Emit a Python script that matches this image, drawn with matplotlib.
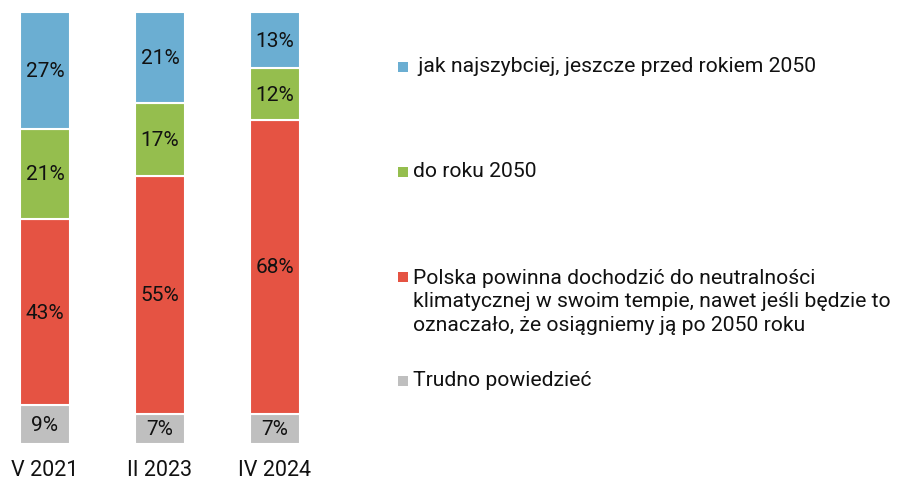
import matplotlib
matplotlib.use("Agg")
import matplotlib.pyplot as plt

plt.rcParams['font.family'] = ['Roboto', 'DejaVu Sans']

okresy = ['V 2021', 'II 2023', 'IV 2024']
trudno = [9, 7, 7]
swoim_tempie = [43, 55, 68]
do_2050 = [21, 17, 12]
najszybciej = [27, 21, 13]

etykiety = [' jak najszybciej, jeszcze przed rokiem 2050',
            'do roku 2050',
            'Polska powinna dochodzić do neutralności\nklimatycznej w swoim tempie, nawet jeśli będzie to\noznaczało, że osiągniemy ją po 2050 roku',
            'Trudno powiedzieć']

kolory = {'blue': '#6BAED2', 'green': '#95BE4E', 'red': '#E55343', 'grey': '#BFBFBF'}

fig = plt.figure(figsize=(8.98, 4.81), dpi=100)
W, H = 898, 481

# bars area, pixel based placement
ax = fig.add_axes([0, (H - 445) / H, 320 / W, 432 / H])
ax.set_xlim(-45 / 115, (320 - 45) / 115)
ax.set_ylim(0, 100)
ax.axis('off')

x = list(range(len(okresy)))
szer = 50 / 115
serie = [(trudno, kolory['grey']), (swoim_tempie, kolory['red']),
         (do_2050, kolory['green']), (najszybciej, kolory['blue'])]
dol = [0, 0, 0]
for wartosci, kol in serie:
    ax.bar(x, wartosci, szer, bottom=dol, color=kol, edgecolor='white', linewidth=1.5)
    for xi, v, b in zip(x, wartosci, dol):
        ax.text(xi, b + v / 2, f'{v}%', ha='center', va='center', fontsize=15, color='#111111')
    dol = [d + v for d, v in zip(dol, wartosci)]

for xi, lab in zip(x, okresy):
    ax.text(xi, -6, lab, ha='center', va='center', fontsize=15.5, color='#111111', clip_on=False)

# legend drawn by hand (uneven spacing in reference)
lax = fig.add_axes([0, 0, 1, 1])
lax.set_xlim(0, W)
lax.set_ylim(H, 0)
lax.axis('off')
leg_y = [67, 172, 277, 381]
leg_kol = [kolory['blue'], kolory['green'], kolory['red'], kolory['grey']]
for y, kol, tekst in zip(leg_y, leg_kol, etykiety):
    lax.scatter([403], [y + 1], marker='s', s=60, color=kol, linewidths=0)
    if '\n' in tekst:
        lax.text(413, y - 8, tekst, ha='left', va='top', fontsize=15.2,
                 color='#111111', linespacing=1.3)
    else:
        lax.text(413, y, tekst, ha='left', va='center', fontsize=15.2, color='#111111')

fig.savefig('out.png', dpi=100)
